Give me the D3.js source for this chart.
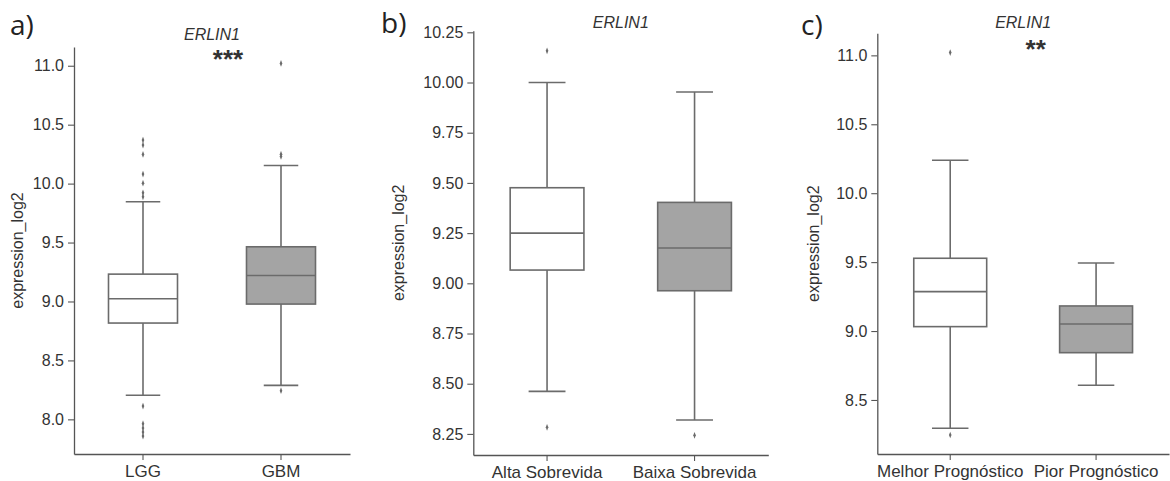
<!DOCTYPE html>
<html>
<head>
<meta charset="utf-8">
<script src="https://cdn.jsdelivr.net/npm/d3@7"></script>
<style>
  html, body { margin: 0; padding: 0; background: #fff; }
  svg { display: block; }
  .tick text { font-family: "Liberation Sans", Arial, sans-serif; fill: #333; }
</style>
</head>
<body>
<svg id="chart" width="1170" height="481"></svg>
<script>
// ---- data: ERLIN1 expression (log2) box summaries per panel ----
const panelTags = ["a)", "b)", "c)"];
const geneTitle = "ERLIN1";
const significance = ["***", "", "**"];

const categoriesA = ["LGG", "GBM"];
const categoriesB = ["Alta Sobrevida", "Baixa Sobrevida"];
const categoriesC = ["Melhor Prognóstico", "Pior Prognóstico"];

// [lower whisker, Q1, median, Q3, upper whisker] for each category
const statsA = [[8.204, 8.817, 9.023, 9.232, 9.846], [8.288, 8.978, 9.221, 9.464, 10.154]];
const statsB = [[8.462, 9.066, 9.250, 9.476, 10.000], [8.319, 8.963, 9.176, 9.403, 9.953]];
const statsC = [[8.295, 9.032, 9.286, 9.528, 10.239], [8.607, 8.843, 9.051, 9.182, 9.494]];

const outliersA = [
  [10.369, 10.327, 10.248, 10.081, 10.004, 9.922, 9.888, 8.113, 7.963, 7.926, 7.892, 7.858],
  [11.02, 10.25, 10.23, 8.243]
];
const outliersB = [[10.158, 8.283], [8.243]];
const outliersC = [[11.02, 8.246], []];

// y-axis limits and tick values
const yLimitsA = [7.706, 11.159];
const yLimitsB = [8.145, 10.258];
const yLimitsC = [8.108, 11.16];
const yTicksA = [8.0, 8.5, 9.0, 9.5, 10.0, 10.5, 11.0];
const yTicksB = [8.25, 8.50, 8.75, 9.00, 9.25, 9.50, 9.75, 10.00, 10.25];
const yTicksC = [8.5, 9.0, 9.5, 10.0, 10.5, 11.0];
const yTickFormats = [".1f", ".2f", ".1f"];

const fills = ["#ffffff", "#a4a4a4"];

// ---- layout of the three panels (pixel frames) ----
const frames = [
  { x0: 74,    x1: 350,  yTop: 47,   yBot: 454, labelOff: 51, tagX: 10,  tagY: 35, titleY: 40, starDx: 16,  starY: 68 },
  { x0: 473.3, x1: 768.3,yTop: 30.7, yBot: 455, labelOff: 69, tagX: 381, tagY: 33, titleY: 28, starDx: 0,   starY: 50 },
  { x0: 877.3, x1: 1169, yTop: 33.3, yBot: 454, labelOff: 58, tagX: 801, tagY: 35, titleY: 28, starDx: 12.5,starY: 58 }
];

const panels = [
  { cats: categoriesA, stats: statsA, outs: outliersA, lim: yLimitsA, ticks: yTicksA },
  { cats: categoriesB, stats: statsB, outs: outliersB, lim: yLimitsB, ticks: yTicksB },
  { cats: categoriesC, stats: statsC, outs: outliersC, lim: yLimitsC, ticks: yTicksC }
];

const lineColor = "#6b6b6b";
const axisColor = "#555";
const font = '"Liberation Sans", Arial, sans-serif';

const svg = d3.select("#chart");

panels.forEach((p, i) => {
  const f = frames[i];
  const g = svg.append("g");

  const x = d3.scaleBand().domain(p.cats).range([f.x0, f.x1]).padding(0);
  const y = d3.scaleLinear().domain(p.lim).range([f.yBot, f.yTop]);

  // axes (left + bottom spines only)
  const yAxis = d3.axisLeft(y).tickValues(p.ticks).tickFormat(d3.format(yTickFormats[i]))
    .tickSize(6).tickPadding(4).tickSizeOuter(0);
  const xAxis = d3.axisBottom(x).tickSize(6).tickPadding(5).tickSizeOuter(0);

  const ya = g.append("g").attr("transform", `translate(${f.x0},0)`).call(yAxis);
  const xa = g.append("g").attr("transform", `translate(0,${f.yBot})`).call(xAxis);
  [ya, xa].forEach(a => {
    a.select(".domain").attr("stroke", axisColor).attr("stroke-width", 1.3);
    a.selectAll(".tick line").attr("stroke", axisColor).attr("stroke-width", 1.1);
  });
  ya.selectAll(".tick text").attr("font-size", 16);
  xa.selectAll(".tick text").attr("font-size", 17);

  const bw = x.bandwidth();
  const boxW = bw * 0.5;
  const capW = bw * 0.25;

  const box = g.selectAll(".box").data(p.cats).enter().append("g");

  // whiskers
  box.append("line")
    .attr("x1", d => x(d) + bw / 2).attr("x2", d => x(d) + bw / 2)
    .attr("y1", (d, j) => y(p.stats[j][0])).attr("y2", (d, j) => y(p.stats[j][1]));
  box.append("line")
    .attr("x1", d => x(d) + bw / 2).attr("x2", d => x(d) + bw / 2)
    .attr("y1", (d, j) => y(p.stats[j][3])).attr("y2", (d, j) => y(p.stats[j][4]));
  // caps
  [0, 4].forEach(k => {
    box.append("line")
      .attr("x1", d => x(d) + bw / 2 - capW / 2).attr("x2", d => x(d) + bw / 2 + capW / 2)
      .attr("y1", (d, j) => y(p.stats[j][k])).attr("y2", (d, j) => y(p.stats[j][k]));
  });
  // box body
  box.append("rect")
    .attr("x", d => x(d) + bw / 2 - boxW / 2)
    .attr("width", boxW)
    .attr("y", (d, j) => y(p.stats[j][3]))
    .attr("height", (d, j) => y(p.stats[j][1]) - y(p.stats[j][3]))
    .attr("fill", (d, j) => fills[j]);
  // median
  box.append("line")
    .attr("x1", d => x(d) + bw / 2 - boxW / 2).attr("x2", d => x(d) + bw / 2 + boxW / 2)
    .attr("y1", (d, j) => y(p.stats[j][2])).attr("y2", (d, j) => y(p.stats[j][2]));

  box.selectAll("line, rect").attr("stroke", lineColor).attr("stroke-width", 1.6);

  // outliers as small diamonds
  p.cats.forEach((c, j) => {
    g.selectAll(null).data(p.outs[j]).enter().append("path")
      .attr("d", d3.symbol().type(d3.symbolDiamond).size(9))
      .attr("transform", v => `translate(${x(c) + bw / 2},${y(v)}) scale(0.8,1.2)`)
      .attr("fill", lineColor);
  });

  // y label
  const cy = (f.yTop + f.yBot) / 2;
  g.append("text")
    .attr("transform", `translate(${f.x0 - f.labelOff},${cy}) rotate(-90)`)
    .attr("text-anchor", "middle")
    .attr("font-family", font).attr("font-size", 16).attr("fill", "#333")
    .text("expression_log2");

  // title
  const cx = (f.x0 + f.x1) / 2;
  g.append("text")
    .attr("x", cx).attr("y", f.titleY)
    .attr("text-anchor", "middle")
    .attr("font-family", font).attr("font-size", 16).attr("font-style", "italic").attr("fill", "#333")
    .text(geneTitle);

  // significance stars
  if (significance[i]) {
    g.append("text")
      .attr("x", cx + f.starDx).attr("y", f.starY)
      .attr("text-anchor", "middle")
      .attr("font-family", font).attr("font-size", 26).attr("font-weight", "bold").attr("fill", "#333")
      .text(significance[i]);
  }

  // panel tag
  svg.append("text")
    .attr("x", f.tagX).attr("y", f.tagY)
    .attr("font-family", '"Open Sans", sans-serif').attr("font-size", 28).attr("fill", "#222")
    .text(panelTags[i]);
});
</script>
</body>
</html>
